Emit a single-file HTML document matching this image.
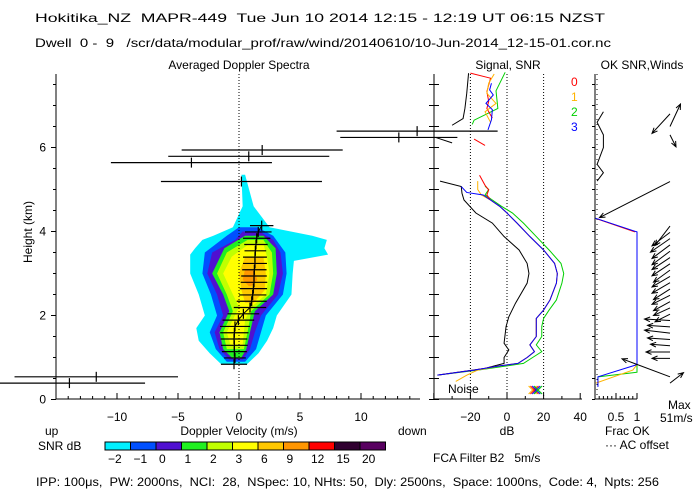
<!DOCTYPE html>
<html><head><meta charset="utf-8"><style>
html,body{margin:0;padding:0;background:#fff;}
svg{display:block;font-family:"Liberation Sans",sans-serif;}
text{font-size:12px;fill:#000;white-space:pre;}
</style></head><body>
<svg id="c" width="700" height="500" viewBox="0 0 700 500" xmlns="http://www.w3.org/2000/svg">
<text x="35" y="22" textLength="570" lengthAdjust="spacingAndGlyphs">Hokitika_NZ  MAPR-449  Tue Jun 10 2014 12:15 - 12:19 UT 06:15 NZST</text>
<text x="35" y="47" textLength="576" lengthAdjust="spacingAndGlyphs">Dwell  0 -  9   /scr/data/modular_prof/raw/wind/20140610/10-Jun-2014_12-15-01.cor.nc</text>
<text x="239" y="69" text-anchor="middle">Averaged Doppler Spectra</text>
<text x="508" y="69" text-anchor="middle">Signal, SNR</text>
<text x="642" y="69" text-anchor="middle">OK SNR,Winds</text>
<text x="32" y="232" transform="rotate(-90 32 232)" text-anchor="middle">Height (km)</text>
<text x="239" y="435" text-anchor="middle">Doppler Velocity (m/s)</text>
<text x="45" y="435">up</text>
<text x="398" y="435">down</text>
<text x="507" y="435" text-anchor="middle">dB</text>
<text x="605" y="435">Frac OK</text>
<text x="605" y="449">··· AC offset</text>
<text x="668" y="409">Max</text>
<text x="660" y="422">51m/s</text>
<text x="38" y="450">SNR dB</text>
<text x="433" y="462">FCA Filter B2   5m/s</text>
<text x="448" y="393">Noise</text>
<text x="36" y="486" textLength="623" lengthAdjust="spacingAndGlyphs">IPP: 100μs,  PW: 2000ns,  NCI:  28,  NSpec: 10, NHts: 50,  Dly: 2500ns,  Space: 1000ns,  Code: 4,  Npts: 256</text>
<text x="571" y="86" fill="#ff0000" style="fill:#ff0000">0</text>
<text x="571" y="101" style="fill:#ffb400">1</text>
<text x="571" y="116" style="fill:#00d000">2</text>
<text x="571" y="131" style="fill:#0000ff">3</text>
</svg>
<script>
// ---- data ----
const cbColors = ["#00f0ff","#0050ff","#5010d0","#20f020","#c0ff00","#ffff00","#ffc800","#ff9600","#ff0000","#300030","#580060"];
const cbLabels = ["-2","-1","0","1","2","3","6","9","12","15","20"];
const xTickLabels = [-10,-5,0,5,10];
const hTickLabels = [0,2,4,6];
const dbTickLabels = [-20,0,20,40];
// contour levels: heights, left velocity, right velocity
const cyanH = [0.85,1.1,1.4,1.7,2.0,2.5,3.0,3.3,3.45,3.6,3.8,3.9,4.1,4.6,5.35];
const cyanL = [-1.5,-2.4,-3.3,-3.5,-2.8,-3.3,-4.0,-4.0,-4.0,-3.6,-3.0,-2.1,-0.5,0.3,0.2];
const cyanR = [0.7,1.6,2.3,2.8,3.1,4.3,4.4,4.5,7.3,7.0,7.2,6.0,2.5,1.2,0.5];
const blueH = [0.9,1.2,1.6,2.0,2.5,3.0,3.5,3.9,4.1];
const blueL = [-1.0,-1.9,-2.4,-1.8,-2.3,-3.0,-2.8,-1.0,0.0];
const blueR = [0.5,1.4,1.8,2.2,3.6,3.9,3.8,2.8,1.5];
const indH = [0.95,1.2,1.6,2.0,2.5,3.0,3.5,3.8,4.0];
const indL = [-0.8,-1.6,-2.0,-1.3,-1.8,-2.6,-2.2,-0.3,0.3];
const indR = [0.3,0.9,1.3,1.8,3.2,3.6,3.4,2.8,1.7];
const grnH = [1.0,1.2,1.6,2.1,2.5,3.0,3.6,3.9];
const grnL = [-0.6,-1.3,-1.6,-0.8,-1.3,-2.2,-1.2,0.5];
const grnR = [0.2,0.6,0.9,1.3,2.8,3.1,3.0,2.0];
const ygH = [1.2,1.6,2.1,2.5,3.0,3.5,3.8];
const ygL = [-1.0,-1.3,-0.5,-1.0,-1.8,-1.0,0.7];
const ygR = [0.4,0.7,1.0,2.5,2.8,2.7,2.0];
const yelH = [1.3,1.6,1.9,2.2,2.5,3.0,3.4,3.7];
const yelL = [-0.7,-1.0,-0.5,0.0,-0.5,-1.3,-0.6,0.8];
const yelR = [0.3,0.4,0.5,1.0,2.2,2.5,2.3,2.0];
const goldH = [2.3,2.6,3.0,3.4];
const goldL = [0.5,0.2,0.0,0.5];
const goldR = [1.2,2.1,2.2,2.0];
const orH = [2.7,2.85,3.1];
const orL = [0.8,0.3,0.5];
const orR = [1.0,1.5,1.2];
// spectral moments: height, mean velocity, half width
const specH = [0.39,0.54,0.84,0.99,1.14,1.29,1.44,1.59,1.74,1.89,2.04,2.19,2.34,2.49,2.64,2.79,2.94,3.09,3.24,3.39,3.54,3.69,3.84,3.99,4.14,5.19,5.64,5.79,5.94,6.24,6.39];
const specV = [-13.9,-11.7,-0.41,-0.33,-0.38,-0.38,-0.41,-0.38,-0.33,-0.05,0.36,0.9,1.04,1.12,1.18,1.23,1.23,1.26,1.31,1.31,1.34,1.39,1.45,1.58,1.86,0.2,-3.9,0.8,1.9,13.1,14.6];
const specW = [6.2,6.7,1.07,0.89,1.02,1.09,1.09,1.16,1.23,1.30,1.30,1.33,1.23,1.12,1.12,1.09,1.05,1.0,0.98,0.98,0.89,0.96,1.12,1.09,0.96,6.6,6.6,6.6,6.6,4.8,6.6];
// SNR profiles (null = gap)
const redH = [0.58,0.70,0.80,0.86,1.00,1.14,1.30,1.50,1.74,1.93,2.13,2.37,2.77,3.00,3.24,3.56,3.88,4.20,4.44,4.60,4.75,4.87,4.99,5.10,5.34,null,6.05,6.20,null,6.70,6.93,7.10,7.33,7.65,7.77];
const redDb = [-38,-18,-4,6,11,15,12.5,16,16,16,20,23.5,27,27.5,26,20,12.5,5.5,0,-4,-9,-11,-10,-12,-15,null,-12,-18,null,-8,-11,-10,-11,-9,-20];
const orgH = [0.43,0.58,0.70,0.80,0.86,1.00,1.14,1.30,1.50,1.74,1.93,2.13,2.37,2.77,3.00,3.24,3.56,3.88,4.20,4.44,4.60,4.75,4.87,5.00,5.20,null,6.60,6.85,7.05,7.29,7.53,7.75];
const orgDb = [-28,-22,-16,-4,6,11,15,12.5,16,16,16,20,23.5,27,27.5,26,20,12.5,5.5,0,-4,-9,-14,-16,-16,null,-9,-12,-6,-11,-10,-7];
const grnDbH = [0.58,0.70,0.80,0.86,1.00,1.14,1.30,1.50,1.74,1.93,2.13,2.37,2.77,3.00,3.24,3.56,3.88,4.20,4.44,4.60,4.75,4.87,5.00,5.08,null,6.55,6.65,6.93,7.35,7.79];
const grnDb = [-38,-16,0,9,14,19,16,19,19,20,23,27,30,31,29.5,23,16,9,3,-3,-8,-12,-10,-12,null,-19,-18,-5,-6,-1];
const bluDbH = [0.58,0.70,0.80,0.86,1.00,1.14,1.30,1.50,1.74,1.93,2.13,2.37,2.77,3.00,3.24,3.56,3.88,4.20,4.44,4.60,4.75,4.87,4.93,5.07,null,6.42,6.66,6.90,7.05,7.25,7.37,7.53];
const bluDb = [-38,-18,-4,6,11,15,12.5,16,16,16,20,23.5,27,27.5,26,20,12.5,5.5,0,-4,-9,-13,-22,-25,null,-10.4,-8.5,-8,-11.5,-7.5,-9.5,-8.5];
const blkH = [0.58,0.74,0.86,1.00,1.18,1.34,1.74,1.97,2.29,2.77,3.00,3.24,3.56,3.88,4.20,4.44,4.75,4.91,5.07,5.20,null,6.11,6.24,null,6.53,6.69,6.93,7.29,7.77];
const blkDb = [-38,-12,-1.6,-1.6,1,-1.6,-0.5,1,4.6,11,12,11,6.6,-1.6,-8,-17,-23.5,-24.6,-25,-36.6,null,-30,-39,null,-30,-24,-23,-22,-21];
// fraction OK
const fracH = [0.30,0.54,0.83,3.99,4.32,7.75];
const fracBlue = [0.07,0.07,1,1,0,0];
const fracOrgH = [0.39,0.70,0.83];
const fracOrg = [0.02,0.9,1];
const fracGrnH = [0.54,0.65,0.83];
const fracGrn = [0.07,1,1];
const fracRedH = [3.99,4.30];
const fracRed = [0.95,0.05];
const fracBlkH = [5.2,5.4,5.6,6.0,6.3,6.6,6.85];
const fracBlk = [0.05,0.2,0.05,0.2,0.2,0.05,0.2];
// winds: height, u, v (m/s)
const windH = [0.39,0.54,0.98,1.13,1.28,1.43,1.58,1.73,1.88,2.03,2.18,2.33,2.48,2.63,2.78,2.93,3.08,3.23,3.38,3.53,3.68,3.83,3.98,4.13,5.19,6.3,6.5,6.8];
const windU = [9,-32,-12,-16,-13,-15,-17,-15,-17,-10,-11,-11,-12,-11,-12,-12,-11,-12,-12,-12,-12,-13,-12,-10,-47,4,7,-12];
const windV = [7,12,0,0,1,1,2,1,1,-5,-5,-6,-6,-7,-7,-7,-8,-8,-8,-9,-9,-9,-9,-13,-24,-8,15,-13];
const crossDb = [14,15,16,17];
const crossColors = ["#ffb400","#ff0000","#0000ff","#00d000"];

// ---- scales ----
const vx = v => 239 + v*12.2;
const hy = h => 399.5 - h*42;
const dbx = d => 507 + d*1.83;
const fx = f => 595 + f*42;
const NS = "http://www.w3.org/2000/svg";
const svg = document.getElementById('c');
function mk(tag, attrs, parent){const e=document.createElementNS(NS,tag);for(const k in attrs)e.setAttribute(k,attrs[k]);(parent||svg).appendChild(e);return e;}

// contours
const gC = mk('g',{});


function contour(H,L,R,color,name){
  const pts=[];
  for(let i=0;i<H.length;i++)pts.push(vx(L[i])+','+hy(H[i]));
  for(let i=H.length-1;i>=0;i--)pts.push(vx(R[i])+','+hy(H[i]));
  const p=mk('polygon',{points:pts.join(' '),fill:color},gC);
  
  
}
contour(cyanH,cyanL,cyanR,cbColors[0],'contour-cyan');
contour(blueH,blueL,blueR,cbColors[1],'contour-blue');
contour(indH,indL,indR,cbColors[2],'contour-indigo');
contour(grnH,grnL,grnR,cbColors[3],'contour-green');
contour(ygH,ygL,ygR,cbColors[4],'contour-yellowgreen');
contour(yelH,yelL,yelR,cbColors[5],'contour-yellow');
contour(goldH,goldL,goldR,cbColors[6],'contour-gold');
contour(orH,orL,orR,cbColors[7],'contour-orange');

// zero lines
let z=mk('line',{x1:vx(0),x2:vx(0),y1:74,y2:399,stroke:'#000','stroke-dasharray':'1,2'});


[-20,0,20].forEach(d=>{
  const l=mk('line',{x1:dbx(d),x2:dbx(d),y1:74,y2:399,stroke:'#000','stroke-dasharray':'1,2'});
  
  
});
z=mk('line',{x1:597,x2:597,y1:74,y2:399,stroke:'#000','stroke-dasharray':'1,4'});



// spectral moments
const gS=mk('g',{stroke:'#000','stroke-width':1.2});


for(let i=0;i<specH.length;i++){
  const y=hy(specH[i]);
  const b=mk('line',{x1:vx(specV[i]-specW[i]),x2:vx(specV[i]+specW[i]),y1:y,y2:y},gS);
  
  
  const t=mk('line',{x1:vx(specV[i]),x2:vx(specV[i]),y1:y-5,y2:y+5},gS);
  
  
}
let mp=[];
for(let i=2;i<25;i++)mp.push(vx(specV[i])+','+hy(specH[i]));
z=mk('polyline',{points:mp.join(' '),fill:'none',stroke:'#000'});



// SNR profiles
function prof(H,D,color,name,xs){
  let d='',pen=false;
  for(let i=0;i<H.length;i++){
    if(H[i]===null){pen=false;continue;}
    d+=(pen?'L':'M')+xs(D[i])+' '+hy(H[i])+' ';pen=true;
  }
  const p=mk('path',{d:d,fill:'none',stroke:color,'stroke-width':1});
  
  
}
prof(blkH,blkDb,'#000','noise-profile',dbx);
prof(grnDbH,grnDb,'#00d000','snr-beam-2',dbx);
prof(redH,redDb,'#ff0000','snr-beam-0',dbx);
prof(orgH,orgDb,'#ffb400','snr-beam-1',dbx);
prof(bluDbH,bluDb,'#0000ff','snr-beam-3',dbx);
for(let i=0;i<crossDb.length;i++){
  const x=dbx(crossDb[i]),y=390;
  const p=mk('path',{d:`M${x-4} ${y-4}L${x+4} ${y+4}M${x-4} ${y+4}L${x+4} ${y-4}`,stroke:crossColors[i],fill:'none'});
  
  
}
// frac OK
prof(fracBlkH,fracBlk,'#000','frac-ok-high',fx);
prof(fracGrnH,fracGrn,'#00d000','frac-ok-beam-2',fx);
prof(fracOrgH,fracOrg,'#ffb400','frac-ok-beam-1',fx);
prof(fracRedH,fracRed,'#ff0000','frac-ok-beam-0',fx);
prof(fracH,fracBlue,'#0000ff','frac-ok-beam-3',fx);

// winds
const gW=mk('g',{stroke:'#000',fill:'none'});


const K=1.5;
for(let i=0;i<windH.length;i++){
  const x0=670,y0=hy(windH[i]),x1=x0+windU[i]*K,y1=y0-windV[i]*K;
  const a=Math.atan2(y1-y0,x1-x0),L=6;
  const d=`M${x0} ${y0}L${x1} ${y1}M${x1-L*Math.cos(a-0.4)} ${y1-L*Math.sin(a-0.4)}L${x1} ${y1}L${x1-L*Math.cos(a+0.4)} ${y1-L*Math.sin(a+0.4)}`;
  const p=mk('path',{d:d},gW);
  
  
}

// axes
const gA=mk('g',{stroke:'#000','stroke-width':1});


function ln(x1,y1,x2,y2){mk('line',{x1,y1,x2,y2},gA);}
ln(56,74,56,399); ln(56,399,420,399); ln(434,74,434,399); ln(434,399,582,399);
ln(595,74,595,399); ln(595,399,637,399);
for(let h=0;h<=7.5;h+=0.5){
  const y=hy(h),maj=(h%2===0);
  ln(56-(maj?5:3),y,56,y); ln(429,y,439,y); ln(592,y,595,y);
}
for(let v=-15;v<=14;v++){const x=vx(v);ln(x,399,x,399-((v%5===0)?6:3));}
for(let d=-40;d<=40;d+=10){const x=dbx(d);ln(x,399,x,399-((d%20===0)?6:3));}
for(let f=0;f<=1.001;f+=0.1){const x=fx(f);ln(x,399,x,399-((Math.abs(f-0.5)<0.01||f>0.99||f<0.01)?6:3));}
hTickLabels.forEach(h=>{const t=mk('text',{x:46,y:hy(h)+4,'text-anchor':'end'});t.textContent=h;
  });
xTickLabels.forEach(v=>{const t=mk('text',{x:vx(v),y:421,'text-anchor':'middle'});t.textContent=v<0?'\u2212'+(-v):v;
  });
dbTickLabels.forEach(d=>{const t=mk('text',{x:dbx(d),y:421,'text-anchor':'middle'});t.textContent=d<0?'\u2212'+(-d):d;
  });
[['0.5',0.5],['1',1]].forEach(p=>{const t=mk('text',{x:fx(p[1]),y:421,'text-anchor':'middle'});t.textContent=p[0];
  });

// colorbar
const gB=mk('g',{});


const cw=25.5;
cbColors.forEach((c,i)=>{
  const r=mk('rect',{x:105+i*cw,y:442,width:cw,height:8,fill:c,stroke:'#000','stroke-width':1},gB);
  
  
  const t=mk('text',{x:105+i*cw+(cbLabels[i].length>1&&cbLabels[i][0]!=='-'?2:3),y:463},gB);
  t.textContent=cbLabels[i].replace('-','\u2212');
  
  
});
</script>
</body></html>
